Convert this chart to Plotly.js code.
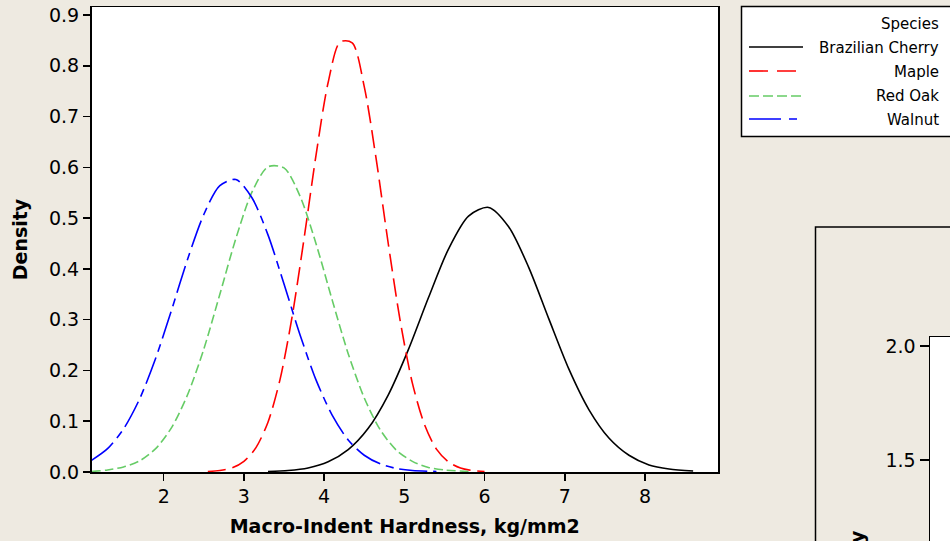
<!DOCTYPE html>
<html>
<head>
<meta charset="utf-8">
<script src="https://cdn.plot.ly/plotly-3.0.1.min.js"></script>
<style>
html,body{margin:0;padding:0;background:#eeeae1;}
#chart{width:950px;height:541px;}
</style>
</head>
<body>
<div id="chart"></div>
<script>
// Species names
const species = ["Brazilian Cherry", "Maple", "Red Oak", "Walnut"];

// Brazilian Cherry density curve
const cherryX = [3.3, 3.55, 3.8, 4.05, 4.3, 4.55, 4.8, 5.05, 5.3, 5.55, 5.8, 6.05, 6.3, 6.55, 6.8, 7.05, 7.3, 7.55, 7.8, 8.05, 8.3, 8.6];
const cherryY = [0.001, 0.003, 0.008, 0.020, 0.044, 0.086, 0.152, 0.241, 0.343, 0.439, 0.504, 0.521, 0.483, 0.403, 0.302, 0.203, 0.123, 0.067, 0.033, 0.014, 0.006, 0.002];

// Maple density curve
const mapleX = [2.55, 2.7, 2.85, 3.0, 3.15, 3.3, 3.45, 3.6, 3.75, 3.9, 4.05, 4.2, 4.35, 4.5, 4.65, 4.8, 4.95, 5.1, 5.25, 5.4, 5.55, 5.7, 5.85, 6.0];
const mapleY = [0.001, 0.003, 0.008, 0.021, 0.048, 0.098, 0.182, 0.305, 0.460, 0.625, 0.767, 0.847, 0.845, 0.759, 0.615, 0.449, 0.296, 0.175, 0.094, 0.045, 0.020, 0.008, 0.003, 0.001];

// Red Oak density curve
const oakX = [1.1, 1.3, 1.5, 1.7, 1.9, 2.1, 2.3, 2.5, 2.7, 2.9, 3.1, 3.3, 3.5, 3.7, 3.9, 4.1, 4.3, 4.5, 4.7, 4.9, 5.1, 5.3, 5.5, 5.8];
const oakY = [0.001, 0.004, 0.010, 0.022, 0.046, 0.088, 0.153, 0.242, 0.350, 0.460, 0.551, 0.601, 0.599, 0.543, 0.449, 0.339, 0.233, 0.146, 0.083, 0.043, 0.021, 0.009, 0.004, 0.001];

// Walnut density curve
const walnutX = [1.1, 1.3, 1.5, 1.7, 1.9, 2.1, 2.3, 2.5, 2.7, 2.9, 3.1, 3.3, 3.5, 3.7, 3.9, 4.1, 4.3, 4.5, 4.7, 4.9, 5.1, 5.4];
const walnutY = [0.023, 0.046, 0.085, 0.144, 0.224, 0.320, 0.420, 0.507, 0.564, 0.576, 0.540, 0.467, 0.370, 0.270, 0.181, 0.112, 0.063, 0.033, 0.016, 0.007, 0.003, 0.001];

// Axis ticks
const xTicks = [2, 3, 4, 5, 6, 7, 8];
const yTicks = [0.0, 0.1, 0.2, 0.3, 0.4, 0.5, 0.6, 0.7, 0.8, 0.9];
const y2Ticks = [1.5, 2.0];

const colors = ["#000000", "#ff0000", "#66cc66", "#0000ff"];
const dashes = ["solid", "18px,7px", "9px,4px", "28px,6px,8px,6px"];
const legendDashes = ["solid", "19px,9px", "10px,4px", "32px,8px,8px,6px"];

const W = 950, H = 541;
const px = v => v / W;
const py = v => (H - v) / H;

const xs = [cherryX, mapleX, oakX, walnutX];
const ys = [cherryY, mapleY, oakY, walnutY];

const traces = species.map((s, i) => ({
  type: "scatter", mode: "lines", name: s,
  x: xs[i], y: ys[i],
  line: {color: colors[i], width: 1.6, dash: dashes[i], shape: "spline", smoothing: 0.8},
  xaxis: "x", yaxis: "y", showlegend: false, hoverinfo: "skip"
}));
traces.push({type: "scatter", mode: "lines", x: [], y: [], xaxis: "x2", yaxis: "y2", showlegend: false, hoverinfo: "skip"});

const tickFont = {family: "DejaVu Sans", size: 19, color: "#000"};
const titleFont = {family: "DejaVu Sans", size: 19, color: "#000", weight: "bold"};

const shapes = [
  // second chart outer frame
  {type: "rect", xref: "paper", yref: "paper", x0: px(815.5), x1: 1.05, y0: -0.1, y1: py(227), line: {color: "#000", width: 1.5}, fillcolor: "rgba(0,0,0,0)", layer: "below"},
  // legend box
  {type: "rect", xref: "paper", yref: "paper", x0: px(741.5), x1: 1.05, y0: py(136.5), y1: py(6.5), line: {color: "#000", width: 1.5}, fillcolor: "#ffffff", layer: "below"}
];
const legendLineY = [47, 71, 96, 119];
const legendTextY = [48, 72, 96, 120];
species.forEach((s, i) => {
  shapes.push({type: "line", xref: "paper", yref: "paper", x0: px(749), x1: px(803), y0: py(legendLineY[i]), y1: py(legendLineY[i]),
    line: {color: colors[i], width: 1.6, dash: legendDashes[i]}});
});

const legFont = {family: "DejaVu Sans", size: 15, color: "#000"};
const annotations = [
  {text: "Species", xref: "paper", yref: "paper", x: px(941), y: py(24), xanchor: "right", yanchor: "middle", showarrow: false, font: legFont}
];
species.forEach((s, i) => {
  annotations.push({text: s, xref: "paper", yref: "paper", x: px(941), y: py(legendTextY[i]), xanchor: "right", yanchor: "middle", showarrow: false, font: legFont});
});
annotations.push({text: "Density", xref: "paper", yref: "paper", x: px(857), y: py(571), xanchor: "center", yanchor: "middle", textangle: -90, showarrow: false, font: titleFont});

const layout = {
  width: W, height: H,
  margin: {l: 0, r: 0, t: 0, b: 0, pad: 0},
  paper_bgcolor: "#eeeae1",
  plot_bgcolor: "#ffffff",
  showlegend: false,
  xaxis: {
    domain: [px(91.5), px(718)], range: [1.1, 8.91], anchor: "y",
    tickvals: xTicks, ticktext: xTicks.map(String),
    ticks: "outside", ticklen: 7, tickwidth: 1.5, tickcolor: "#000",
    showline: true, mirror: true, linecolor: "#000", linewidth: 1.5,
    showgrid: false, zeroline: false, tickfont: tickFont, automargin: false,
    title: {text: "Macro-Indent Hardness, kg/mm2", font: titleFont, standoff: 13}
  },
  yaxis: {
    domain: [py(472), py(7)], range: [0, 0.9157], anchor: "x",
    tickvals: yTicks, ticktext: yTicks.map(v => v.toFixed(1)),
    ticks: "outside", ticklen: 7, tickwidth: 1.5, tickcolor: "#000",
    showline: true, mirror: true, linecolor: "#000", linewidth: 1.5,
    showgrid: false, zeroline: false, tickfont: tickFont, automargin: false,
    title: {text: "Density", font: titleFont, standoff: 16}
  },
  xaxis2: {
    domain: [px(930), 1], range: [0, 1], anchor: "y2", side: "top",
    showticklabels: false, ticks: "", showline: true, linecolor: "#000", linewidth: 1.5,
    showgrid: false, zeroline: false, automargin: false
  },
  yaxis2: {
    domain: [0, py(337)], range: [1.1447, 2.0395], anchor: "x2",
    tickvals: y2Ticks, ticktext: y2Ticks.map(v => v.toFixed(1)),
    ticks: "outside", ticklen: 9, tickwidth: 1.5, tickcolor: "#000",
    showline: true, linecolor: "#000", linewidth: 1.5,
    showgrid: false, zeroline: false, tickfont: tickFont, automargin: false
  },
  shapes: shapes,
  annotations: annotations
};

Plotly.newPlot("chart", traces, layout, {staticPlot: true, displayModeBar: false});
</script>
</body>
</html>
